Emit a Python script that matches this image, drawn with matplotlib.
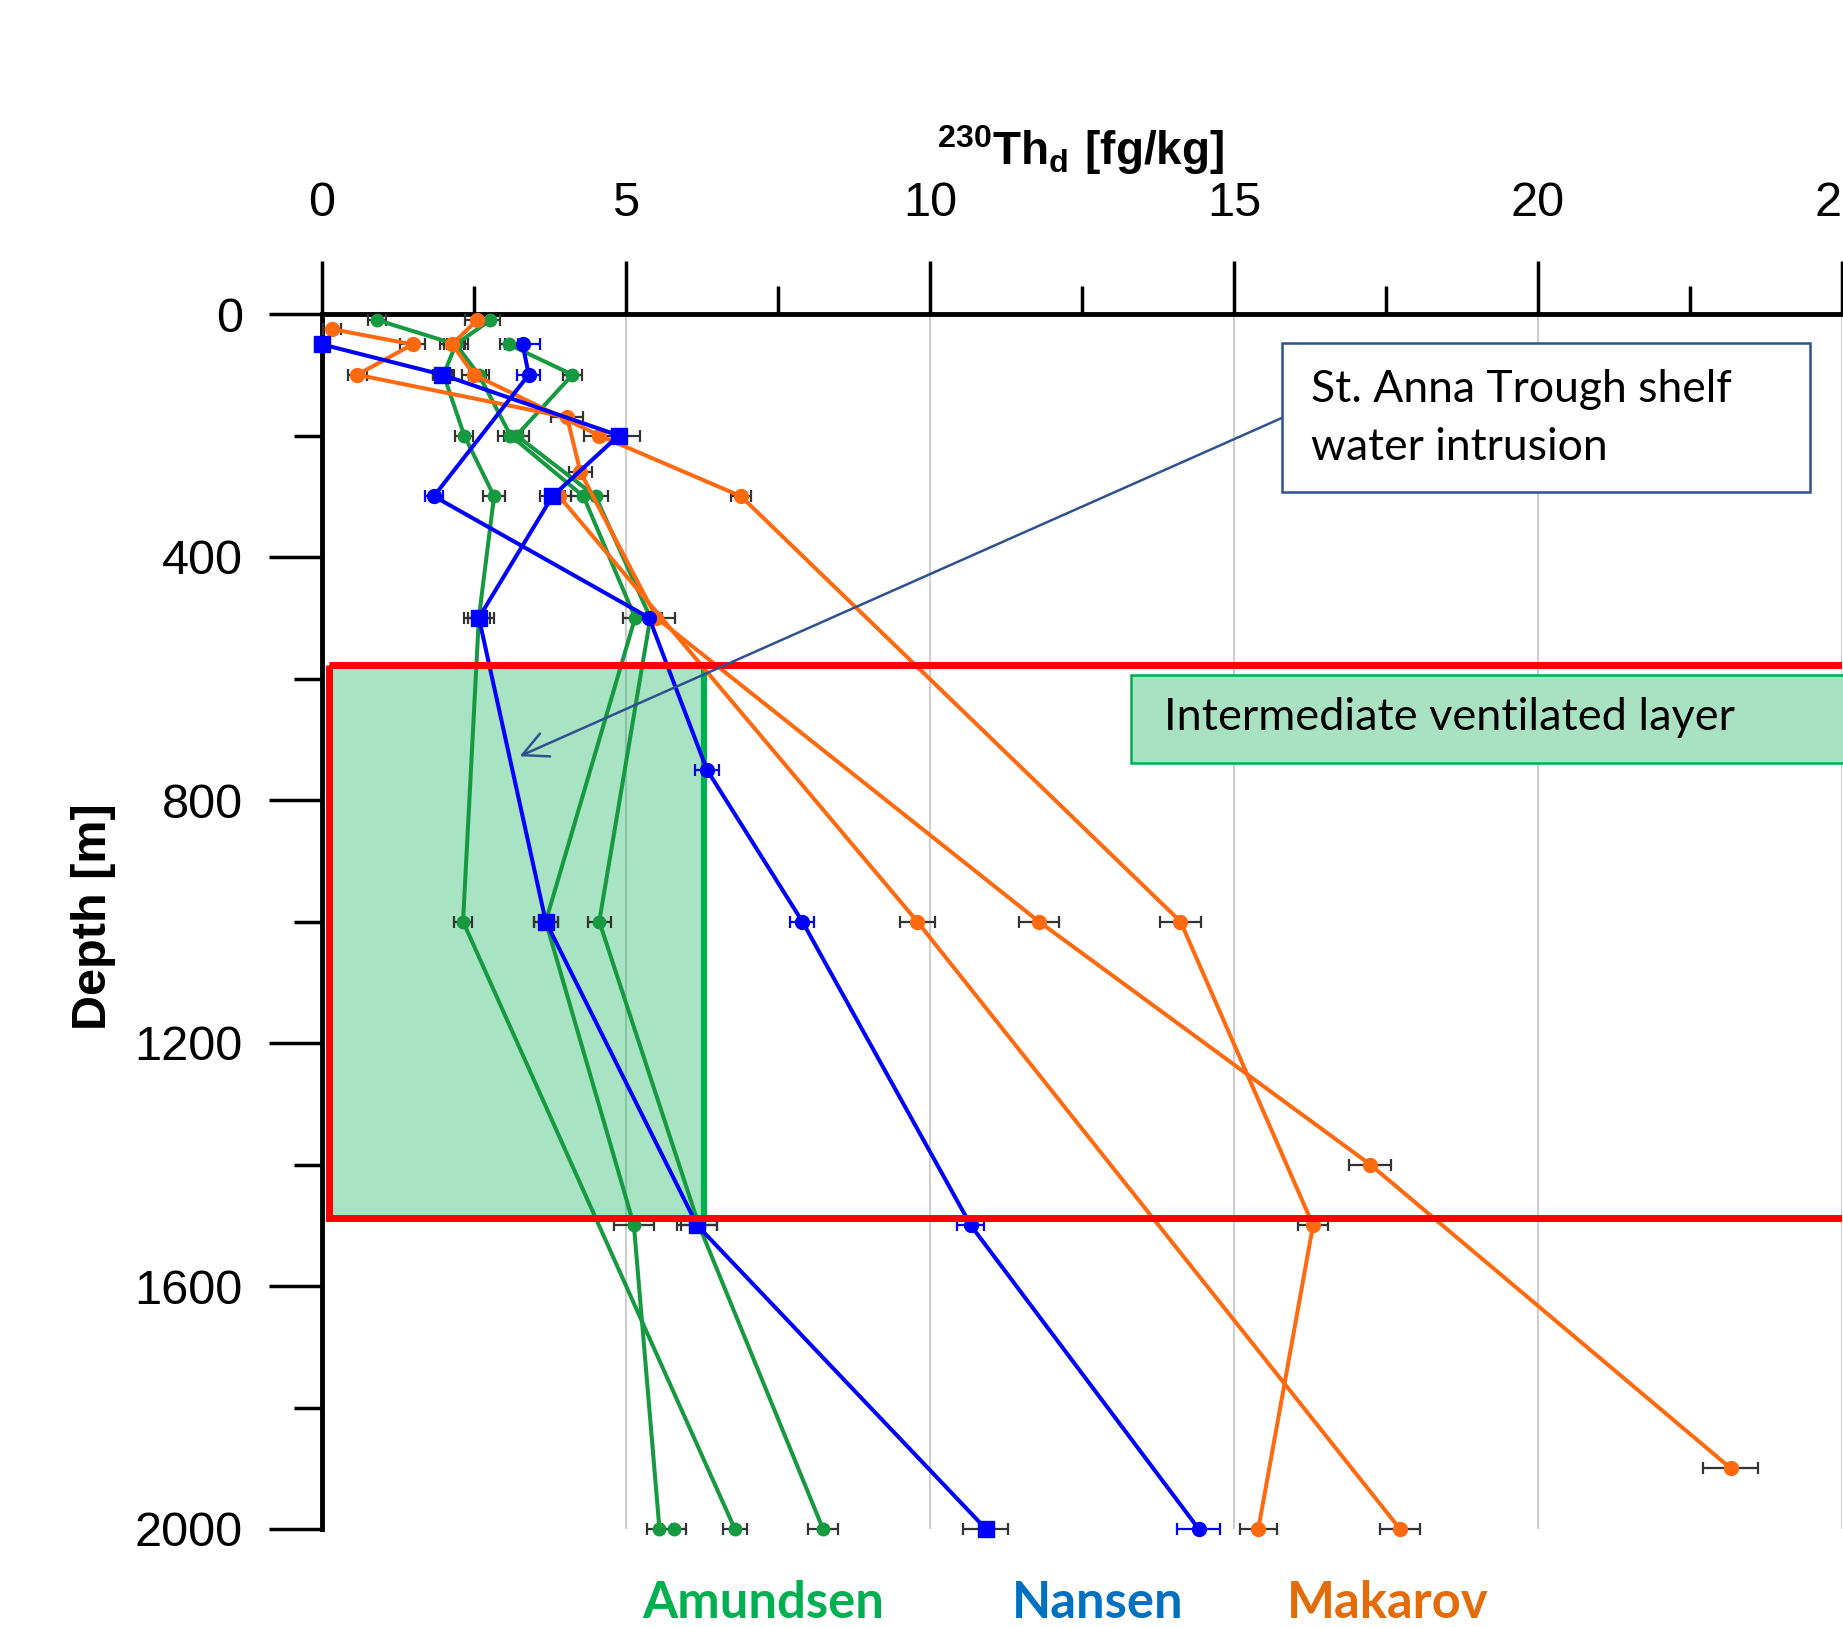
import matplotlib
matplotlib.use('Agg')
import matplotlib.pyplot as plt
from matplotlib.patches import Rectangle
from matplotlib.ticker import MultipleLocator

plt.rcParams['font.family'] = 'Liberation Sans'
plt.rcParams['mathtext.fontset'] = 'custom'
plt.rcParams['mathtext.rm'] = 'Liberation Sans'
plt.rcParams['mathtext.bf'] = 'Liberation Sans:bold'

# Amundsen (gruen)
amu1_x = [2.77, 2.2, 2.0, 2.34, 2.83, 2.58, 2.32, 6.79]
amu1_d = [10, 50, 100, 200, 300, 500, 1000, 2000]
amu1_e = [0.15, 0.15, 0.17, 0.15, 0.18, 0.18, 0.15, 0.2]
amu2_x = [0.91, 2.2, 2.58, 3.1, 4.3, 5.15, 3.68, 5.13, 5.55]
amu2_d = [10, 50, 100, 200, 300, 500, 1000, 1500, 2000]
amu2_e = [0.15, 0.2, 0.16, 0.2, 0.2, 0.2, 0.2, 0.33, 0.2]
amu3_x = [3.07, 4.12, 3.2, 4.5, 5.4, 4.56, 6.2, 8.24]
amu3_d = [50, 100, 200, 300, 500, 1000, 1500, 2000]
amu3_e = [0.15, 0.16, 0.2, 0.2, 0.2, 0.19, 0.3, 0.25]
amu4_x = [5.79]
amu4_d = [2000]
amu4_e = [0.2]

# Nansen (blaa)
nan1_x = [0.0, 1.98, 4.88, 3.79, 2.58, 3.68, 6.17, 10.92]
nan1_d = [50, 100, 200, 300, 500, 1000, 1500, 2000]
nan1_e = [0.12, 0.16, 0.35, 0.2, 0.25, 0.2, 0.33, 0.37]
nan2_x = [3.3, 3.4, 1.84, 5.38, 6.33, 7.9, 10.67, 14.42]
nan2_d = [50, 100, 300, 500, 750, 1000, 1500, 2000]
nan2_e = [0.29, 0.19, 0.15, 0.2, 0.2, 0.2, 0.22, 0.35]

# Makarov (oransje)
mak1_x = [2.55, 2.14, 2.5, 4.56, 6.89, 14.12, 16.3, 15.4]
mak1_d = [10, 50, 100, 200, 300, 1000, 1500, 2000]
mak1_e = [0.2, 0.2, 0.2, 0.25, 0.16, 0.34, 0.25, 0.3]
mak2_x = [0.17, 1.49, 0.58, 4.03, 4.25, 5.5, 11.79, 17.24, 23.17]
mak2_d = [25, 50, 100, 170, 260, 500, 1000, 1400, 1900]
mak2_e = [0.15, 0.2, 0.16, 0.27, 0.19, 0.3, 0.33, 0.35, 0.45]
mak3_x = [3.9, 9.79, 17.73]
mak3_d = [300, 1000, 2000]
mak3_e = [0.2, 0.29, 0.33]

# ventilert lag
layer_top, layer_bot = 578, 1488
layer_x0, layer_x1 = 0.12, 6.28

GREEN = '#16993F'
BLUE = '#0000FF'
ORANGE = '#FF6A10'
EBAR = '#333333'

W, H = 1843, 1627


def fx(px):
    return px / W


def fy(py):
    return 1 - py / H


fig = plt.figure(figsize=(W / 100, H / 100), dpi=100)
ax = fig.add_axes([fx(322), fy(1529), fx(1842) - fx(322), fy(314) - fy(1529)])


def profile(x, d, e, color, marker, ms, ecolor):
    cont = ax.errorbar(x, d, xerr=e, color=color, marker=marker, ms=ms, lw=2.9,
                       mec=color, mfc=color, ecolor=ecolor, elinewidth=1.6,
                       capsize=4.5, capthick=1.6, zorder=3)
    line, caps, bars = cont.lines
    line.set_clip_on(False)
    for c in caps:
        c.set_clip_on(False)
    for b in bars:
        b.set_clip_on(False)


# intermediate layer
ax.add_patch(Rectangle((layer_x0, layer_top), layer_x1 - layer_x0, layer_bot - layer_top,
                       facecolor='#00B050', alpha=0.34, edgecolor='none', zorder=1))
ax.plot([layer_x1, layer_x1], [layer_top, layer_bot], color='#00B050', lw=4.5, zorder=2)

profile(amu1_x, amu1_d, amu1_e, GREEN, 'o', 9, EBAR)
profile(amu2_x, amu2_d, amu2_e, GREEN, 'o', 9, EBAR)
profile(amu3_x, amu3_d, amu3_e, GREEN, 'o', 9, EBAR)
profile(amu4_x, amu4_d, amu4_e, GREEN, 'o', 9, EBAR)
profile(mak1_x, mak1_d, mak1_e, ORANGE, 'o', 10, EBAR)
profile(mak2_x, mak2_d, mak2_e, ORANGE, 'o', 10, EBAR)
profile(mak3_x, mak3_d, mak3_e, ORANGE, 'o', 10, EBAR)
profile(nan1_x, nan1_d, nan1_e, BLUE, 's', 12, EBAR)
profile(nan2_x, nan2_d, nan2_e, BLUE, 'o', 10, BLUE)

ax.add_patch(Rectangle((layer_x0, layer_top), 30, layer_bot - layer_top,
                       facecolor='none', edgecolor='#FF0000', lw=5, zorder=5))

ax.annotate('', xy=(3.25, 728), xytext=(15.79, 171),
            arrowprops=dict(arrowstyle='->', color='#2F528F', lw=1.8,
                            mutation_scale=45, shrinkA=0, shrinkB=0), zorder=6)

# akser
ax.set_xlim(0, 25)
ax.set_ylim(2000, 0)
ax.xaxis.set_major_locator(MultipleLocator(5))
ax.xaxis.set_minor_locator(MultipleLocator(2.5))
ax.yaxis.set_major_locator(MultipleLocator(400))
ax.yaxis.set_minor_locator(MultipleLocator(200))
ax.xaxis.tick_top()
ax.tick_params(which='major', length=38, width=2.5, labelsize=35, direction='out')
ax.tick_params(which='minor', length=20, width=2.5, direction='out')
ax.tick_params(axis='x', pad=25)
ax.tick_params(axis='y', pad=19)
for s in ['bottom', 'right']:
    ax.spines[s].set_visible(False)
for s in ['top', 'left']:
    ax.spines[s].set_linewidth(3.5)
ax.grid(axis='x', which='major', color='#CFCFCF', lw=1.5)
ax.set_axisbelow(True)

fig.text(fx(1080), fy(150), r'$\mathbf{^{230}Th_d\ [fg/kg]}$', fontsize=33,
         ha='center', va='center')
fig.text(fx(94), fy(917), 'Depth [m]', rotation=90, fontsize=35, fontweight='bold',
         ha='center', va='center')

# tekstbokser
fig.patches.append(Rectangle((fx(1281.5), fy(492)), fx(528), 149 / H, transform=fig.transFigure,
                             facecolor='white', edgecolor='#2F528F', lw=1.8, zorder=7))
fig.text(fx(1311), fy(402), 'St. Anna Trough shelf', fontsize=32, family='Lato',
         va='baseline', zorder=8)
fig.text(fx(1311), fy(460), 'water intrusion', fontsize=32, family='Lato',
         va='baseline', zorder=8)

fig.patches.append(Rectangle((fx(1131), fy(763)), fx(800), 88 / H, transform=fig.transFigure,
                             facecolor='#A8E2C3', edgecolor='#00B050', lw=1.8, zorder=7))
fig.text(fx(1164), fy(718), 'Intermediate ventilated layer', fontsize=32.5, family='Lato',
         va='center', zorder=8)

fig.text(fx(763), fy(1618), 'Amundsen', fontsize=36.5, family='Lato', fontweight='bold',
         color='#00B050', ha='center', va='baseline')
fig.text(fx(1098), fy(1618), 'Nansen', fontsize=36.5, family='Lato', fontweight='bold',
         color='#0070C0', ha='center', va='baseline')
fig.text(fx(1388), fy(1618), 'Makarov', fontsize=36.5, family='Lato', fontweight='bold',
         color='#E36C09', ha='center', va='baseline')

fig.savefig('out.png', dpi=100)
